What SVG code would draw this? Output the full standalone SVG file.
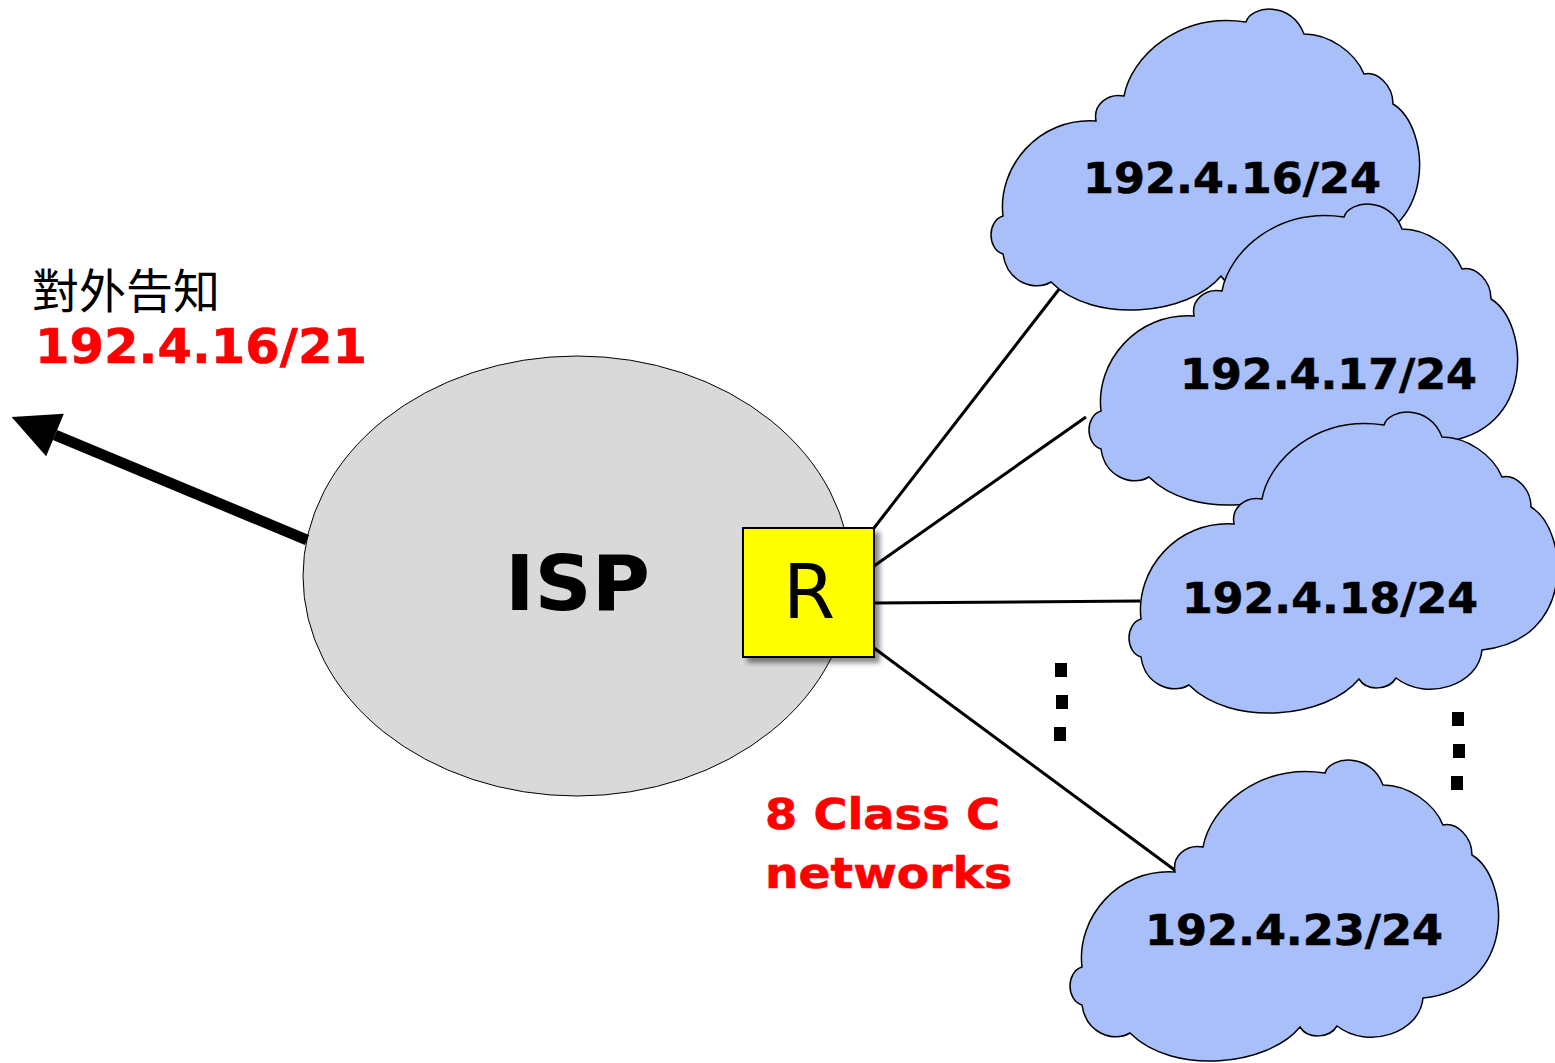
<svg xmlns="http://www.w3.org/2000/svg" xmlns:xlink="http://www.w3.org/1999/xlink" width="1555" height="1063" viewBox="0 0 1555 1063">
  <style>
    .bold { font-family: "DejaVu Sans", Verdana, sans-serif; font-weight: bold; }
    .red { fill: #ff0000; stroke: #ff0000; stroke-width: 0.6; }
    .netlabel { font-size: 42px; fill: #000; stroke: #000; stroke-width: 0.6; text-anchor: start; }
    .cloud { fill: #a9bffa; stroke: #000; stroke-width: 1.5; }
    .link { stroke: #000; stroke-width: 3; fill: none; }
    .dot { fill: #000; }
  </style>
  <defs>
    <!-- cloud outline, local box 430 x 304 -->
    <path id="cloudShape" d="M107,114 C104,98 118,86 135,89 C142,50 190,5 257,15 C262,-2 303,-6 315,27 C340,27 366,45 375,67 C388,64 404,78 404,97 C442,120 450,230 355,240 C352,275 300,292 269,268 C262,280 240,282 232,269 C200,308 105,318 62,275 C45,285 18,275 14,247 C-2,242 -2,214 14,209 C8,160 50,110 107,114 Z"/>
    <marker id="bigHead" markerUnits="userSpaceOnUse" markerWidth="50" markerHeight="50" viewBox="0 -25 50 50" refX="0" refY="0" orient="auto" overflow="visible">
      <path d="M0,-23 L47,0 L0,23 Z" fill="#000"/>
    </marker>
    <filter id="shadow" x="-20%" y="-20%" width="150%" height="150%">
      <feDropShadow dx="5" dy="5" stdDeviation="2.5" flood-color="#000" flood-opacity="0.45"/>
    </filter>
  </defs>

  <rect width="1555" height="1063" fill="#fff"/>

  <!-- ISP network -->
  <g id="isp">
    <ellipse cx="577" cy="576" rx="274" ry="220" fill="#d9d9d9" stroke="#000" stroke-width="1"/>
    <text x="505" y="610" class="bold" font-size="77" fill="#000" textLength="145" lengthAdjust="spacingAndGlyphs">ISP</text>
  </g>

  <!-- links and the announcement arrow -->
  <g id="connectors">
    <line class="link" x1="874" y1="528" x2="1060" y2="288"/>
    <line class="link" x1="874" y1="566" x2="1086" y2="417"/>
    <line class="link" x1="874" y1="603" x2="1140" y2="601"/>
    <line class="link" x1="874" y1="648" x2="1176" y2="871"/>
    <line x1="307" y1="540" x2="55" y2="435" stroke="#000" stroke-width="11" marker-end="url(#bigHead)"/>
  </g>

  <!-- border router -->
  <g id="router">
    <rect x="743" y="528" width="131" height="129" fill="#ffff00" stroke="#000" stroke-width="2" filter="url(#shadow)"/>
    <text x="809" y="618" font-family="DejaVu Sans, Verdana, sans-serif" font-size="75" text-anchor="middle" fill="#000">R</text>
  </g>

  <!-- customer networks -->
  <g id="net16">
    <use xlink:href="#cloudShape" class="cloud" transform="translate(989,7)"/>
    <text x="1083" y="193" class="bold netlabel" textLength="298" lengthAdjust="spacingAndGlyphs">192.4.16/24</text>
  </g>
  <g id="net17">
    <use xlink:href="#cloudShape" class="cloud" transform="translate(1087,202)"/>
    <text x="1180" y="389" class="bold netlabel" textLength="297" lengthAdjust="spacingAndGlyphs">192.4.17/24</text>
  </g>
  <g id="net18">
    <use xlink:href="#cloudShape" class="cloud" transform="translate(1127,410)"/>
    <text x="1182" y="613" class="bold netlabel" textLength="296" lengthAdjust="spacingAndGlyphs">192.4.18/24</text>
  </g>
  <g id="net23">
    <use xlink:href="#cloudShape" class="cloud" transform="translate(1068,758)"/>
    <text x="1145" y="945" class="bold netlabel" textLength="298" lengthAdjust="spacingAndGlyphs">192.4.23/24</text>
  </g>

  <!-- ellipsis marks -->
  <g id="ellipsis-left">
    <rect class="dot" x="1055" y="663" width="12" height="14"/>
    <rect class="dot" x="1056" y="695" width="12" height="14"/>
    <rect class="dot" x="1054" y="727" width="12" height="14"/>
  </g>
  <g id="ellipsis-right">
    <rect class="dot" x="1452" y="712" width="12" height="14"/>
    <rect class="dot" x="1453" y="744" width="12" height="14"/>
    <rect class="dot" x="1451" y="776" width="12" height="14"/>
  </g>

  <!-- advertised aggregate -->
  <g id="announce">
    <text x="32" y="308" font-family="'Noto Sans CJK TC', 'Noto Sans CJK SC', sans-serif" font-size="47" fill="#000">對外告知</text>
    <text x="35" y="363" class="bold red" font-size="48" textLength="332" lengthAdjust="spacingAndGlyphs">192.4.16/21</text>
  </g>

  <!-- block size note -->
  <g id="note">
    <text x="765" y="829" class="bold red" font-size="43" textLength="235" lengthAdjust="spacingAndGlyphs">8 Class C</text>
    <text x="765" y="888" class="bold red" font-size="43" textLength="247" lengthAdjust="spacingAndGlyphs">networks</text>
  </g>
</svg>
